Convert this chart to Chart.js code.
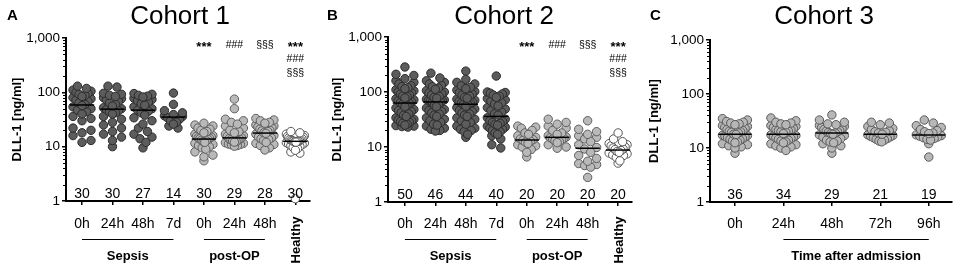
<!DOCTYPE html>
<html>
<head>
<meta charset="utf-8">
<script src="https://cdn.jsdelivr.net/npm/chart.js@4.4.1/dist/chart.umd.min.js"></script>
<style>
  html, body { margin: 0; padding: 0; background: #fff; }
  #wrap { position: relative; width: 957px; height: 266px; overflow: hidden; }
  canvas { position: absolute; top: 0; }
</style>
</head>
<body>
<div id="wrap">
  <canvas id="c1" width="320" height="266" style="left:0"></canvas>
  <canvas id="c2" width="317" height="266" style="left:320px"></canvas>
  <canvas id="c3" width="320" height="266" style="left:637px"></canvas>
</div>
<script>
// ---- data (DLL-1, ng/ml) ----
const yTicks = [1, 10, 100, 1000];
const yTickLabels = ['1', '10', '100', '1,000'];

// Cohort 1
const c1Labels = ['0h', '24h', '48h', '7d', '0h', '24h', '48h', 'Healthy'];
const c1Counts = [30, 30, 27, 14, 30, 29, 28, 30];
const c1Sepsis0h = [130,118,110,105,100,96,92,88,84,80,76,72,68,64,60,57,54,50,47,44,40,36,33,30,22,20,18,16,13,12];
const c1Sepsis24h = [130,125,96,92,88,84,80,76,72,68,64,60,56,52,50,48,46,44,42,40,36,32,28,25,22,19,17,15,13,10];
const c1Sepsis48h = [95,92,88,85,82,78,74,70,66,62,58,54,50,47,45,42,38,34,30,26,22,19,17,15,14,12,9.5];
const c1Sepsis7d = [97,60,46,42,39,37,36,34,32,30,28,26,24,22];
const c1PostOp0h = [27,25,24,22,21,20,19,18,17,16,15.5,15,14.5,14.2,14,13.6,13.2,12.8,12.4,12,11.5,11,10.5,10,9.5,9,8,7,6.5,5.5];
const c1PostOp24h = [75,50,32,30,28,26,24,22,20,19,18,17,16,15.5,14.5,14,13.7,13.4,13,12.7,12.4,12.1,11.8,11.5,11.2,11,10.8,10.5,10.2];
const c1PostOp48h = [33,31,30,28,27,25,24,23,22,21,20,19.5,19,18,17.6,17,16,15,14.5,14,13.5,13,12,11.5,11,10.5,9.5,8.7];
const c1Healthy = [19,18,17,16,15.5,15,14.5,14,13.6,13.3,13.1,12.9,12.8,12.7,12.6,12.5,12.3,12.1,11.9,11.6,11.2,10.9,10.5,10.1,9.7,9.2,8.6,8,7.6,1.1];
const c1Kinds = ['sepsis', 'sepsis', 'sepsis', 'sepsis', 'postop', 'postop', 'postop', 'healthy'];
const c1Groups = [['Sepsis', 0, 3], ['post-OP', 4, 6]];
const c1Sig = [[], [], [], [], ['***'], ['###'], ['§§§'], ['***', '###', '§§§']];

// Cohort 2
const c2Labels = ['0h', '24h', '48h', '7d', '0h', '24h', '48h', 'Healthy'];
const c2Counts = [50, 46, 44, 40, 20, 20, 20, 20];
const c2Sepsis0h = [285,210,200,175,160,150,140,130,125,120,115,110,105,100,96,92,88,85,82,78,75,72,69,66,64,62,60,57,54,51,48,46,44,42,40,38,36,34,32,31,30,29,28,27,26,25,24.5,24,23.5,23];
const c2Sepsis24h = [220,180,160,150,140,132,125,118,112,106,100,96,92,88,84,80,77,74,72,70,69,68,67,65,60,57,54,51,48,46,44,42,40,38,36,34,32,30,28,26,25,24,22,21,20,19.5];
const c2Sepsis48h = [240,170,150,140,130,122,115,108,102,97,92,88,84,80,77,74,71,68,65,63,62,61,59,55,52,49,46,44,42,40,38,36,34,32,30,28,26,24,22,21,20,19,17,15];
const c2Sepsis7d = [195,100,98,95,92,88,84,80,76,72,68,64,60,56,52,49,46,43,40,38,34,32,30,29,28,27,26,25,24,23,22,21,20,19,18,17,16,14,11,9.6];
const c2PostOp0h = [24,23,22,20,18,17,16,15,14,13.6,13.2,12.8,12.2,11.6,11,10.5,10,9,8,6.6];
const c2PostOp24h = [32,28,26,24,22,20,18,17,16,15.2,14.8,14.4,14,13.5,13,12.5,12,11,10,9.5];
const c2PostOp48h = [30,21,19,17,16,15,14,12.5,11,9.8,9.2,8,7,6.2,5.5,5,4.8,4.6,4.3,2.8];
const c2Healthy = [18,14,12.5,11.5,11,10.5,10,9.6,9.2,9,8.6,8.3,8,7.8,7.5,7.2,7,6.5,5.6,5.1];
const c2Kinds = ['sepsis', 'sepsis', 'sepsis', 'sepsis', 'postop', 'postop', 'postop', 'healthy'];
const c2Groups = [['Sepsis', 0, 3], ['post-OP', 4, 6]];
const c2Sig = [[], [], [], [], ['***'], ['###'], ['§§§'], ['***', '###', '§§§']];

// Cohort 3
const c3Labels = ['0h', '24h', '48h', '72h', '96h'];
const c3Counts = [36, 34, 29, 21, 19];
const c3Adm0h = [35,33,31,30,29,28,27,26,25,24,23,22,21,20.5,20,19.5,19,18,17.8,17.2,17,16.5,16,15.5,15,14.5,14,13.5,13,12.5,12,11.5,11,10.5,10,8];
const c3Adm24h = [36,32,30,29,28,27,26,25,24,23,22,21.5,21,20.5,20,19.5,18.5,17.5,17,16.5,16,15.5,15,14.5,14,13.5,13,12.5,12,11.5,11,10.5,10,9];
const c3Adm48h = [41,33,30,28,27,26,25,24,23,22,21,20.5,20,19.5,19,18.5,18,17.5,17,16,15,14,13.5,13,12.5,12,11,10,8];
const c3Adm72h = [30,29,27,25,23,22,21,20,19.5,19,18,17.5,17,16.5,16,15.5,15,14.5,14,13.5,13];
const c3Adm96h = [33,29,26,24,22,21,20,19,18.5,17.5,17,16.5,16,15.5,15,14.5,14,12,6.8];
const c3Kinds = ['adm', 'adm', 'adm', 'adm', 'adm'];
const c3Groups = [['Time after admission', 1, 4]];
const c3Sig = [[], [], [], [], []];

// ---- styles ----
const FONT = "'Liberation Sans', Arial, Helvetica, sans-serif";
Chart.defaults.font.family = FONT;
Chart.defaults.color = '#000';
const kindStyle = {
  sepsis:  { fill: '#5c5c5c', border: '#2b2b2b' },
  postop:  { fill: '#b9b9b9', border: '#5e5e5e' },
  healthy: { fill: '#ffffff', border: '#555555' },
  adm:     { fill: '#b7b7b7', border: '#5a5a5a' }
};

function median(arr) {
  const s = arr.slice().sort((a, b) => a - b);
  const m = Math.floor(s.length / 2);
  return s.length % 2 ? s[m] : (s[m - 1] + s[m]) / 2;
}

// scatter-dot layout: rows of one dot height, dots spread sideways in each row
function swarm(values, center, pxCat, pxDec, halfPx) {
  const diam = 9;
  const bin = diam / pxDec;
  const rows = {};
  values.forEach(v => {
    const k = Math.round(Math.log10(v) / bin);
    (rows[k] = rows[k] || []).push(v);
  });
  const pts = [];
  Object.values(rows).forEach(row => {
    row.sort((a, b) => b - a);
    const k = row.length;
    const step = k > 1 ? Math.min(diam, 2 * halfPx / (k - 1)) : 0;
    const slots = [];
    for (let i = 0; i < k; i++) slots.push((i - (k - 1) / 2) * step);
    // zig-zag: first value left, next right, ...
    const order = [];
    let lo = 0, hi = k - 1;
    while (lo <= hi) { order.push(lo++); if (lo <= hi) order.push(hi--); }
    row.forEach((v, i) => pts.push({ x: center + slots[order[i]] / pxCat, y: v }));
  });
  return pts;
}

const annotPlugin = {
  id: 'annot',
  afterDraw(chart, args, o) {
    const ctx = chart.ctx, xs = chart.scales.x, ys = chart.scales.y, area = chart.chartArea;
    ctx.save();
    ctx.fillStyle = '#000';
    ctx.strokeStyle = '#000';
    // minor log ticks
    ctx.lineWidth = 1;
    for (let d = 0; d < 3; d++) {
      for (let m = 2; m < 10; m++) {
        const y = Math.round(ys.getPixelForValue(m * Math.pow(10, d))) + 0.5;
        ctx.beginPath(); ctx.moveTo(area.left - 3, y); ctx.lineTo(area.left, y); ctx.stroke();
      }
    }
    // panel letter and title
    ctx.textBaseline = 'alphabetic';
    ctx.textAlign = 'left';
    ctx.font = 'bold 15px ' + FONT;
    ctx.fillText(o.letter, o.letterX, 20);
    ctx.textAlign = 'center';
    ctx.font = '26px ' + FONT;
    ctx.fillText(o.title, o.titleX, 24);
    // n per group
    ctx.font = '14px ' + FONT;
    o.counts.forEach((n, i) => ctx.fillText(String(n), xs.getPixelForValue(i), area.bottom - 3));
    // category labels
    o.labels.forEach((l, i) => {
      const x = xs.getPixelForValue(i);
      if (l === 'Healthy') {
        ctx.save();
        ctx.translate(x + 1, 240);
        ctx.rotate(-Math.PI / 2);
        ctx.font = 'bold 13px ' + FONT;
        ctx.textBaseline = 'middle';
        ctx.fillText(l, 0, 0);
        ctx.restore();
      } else {
        ctx.font = '14px ' + FONT;
        ctx.fillText(l, x, 228);
      }
    });
    // group brackets
    ctx.lineWidth = 1;
    o.groups.forEach(([name, a, b]) => {
      const x1 = xs.getPixelForValue(a), x2 = xs.getPixelForValue(b);
      ctx.beginPath(); ctx.moveTo(x1, 239.5); ctx.lineTo(x2, 239.5); ctx.stroke();
      ctx.font = 'bold 13px ' + FONT;
      ctx.fillText(name, (x1 + x2) / 2, 260);
    });
    // significance marks
    const rowsY = [44, 58, 72];
    o.sig.forEach((marks, i) => {
      const x = xs.getPixelForValue(i);
      marks.forEach((s, r) => {
        if (s === '***') {
          ctx.font = 'bold 13px ' + FONT;
          ctx.fillText(s, x, rowsY[r] + 7);
        } else {
          ctx.font = '10.5px ' + FONT;
          ctx.fillText(s, x, rowsY[r] + 4);
        }
      });
    });
    ctx.restore();
  }
};

function makeChart(id, cfg) {
  const datasets = [];
  cfg.series.forEach((vals, i) => {
    const st = kindStyle[cfg.kinds[i]];
    datasets.push({
      type: 'scatter',
      data: swarm(vals, i, cfg.pxCat, cfg.pxDec, cfg.half),
      backgroundColor: st.fill,
      borderColor: st.border,
      borderWidth: 1,
      pointRadius: 4.2,
      clip: false,
      order: 2
    });
    const med = median(vals);
    datasets.push({
      type: 'line',
      data: [{ x: i - cfg.medHalf, y: med }, { x: i + cfg.medHalf, y: med }],
      borderColor: '#000',
      borderWidth: 1.5,
      pointRadius: 0,
      clip: false,
      order: 1
    });
  });

  const axisLine = { display: true, color: '#000', width: 2 };
  return new Chart(document.getElementById(id), {
    type: 'scatter',
    data: { datasets },
    options: {
      responsive: false,
      animation: false,
      events: [],
      layout: { padding: { left: 0, right: cfg.padRight, top: cfg.padTop, bottom: 0 } },
      plugins: {
        legend: { display: false },
        tooltip: { enabled: false },
        annot: {
          letter: cfg.letter, letterX: cfg.letterX, title: cfg.title, titleX: cfg.titleX,
          labels: cfg.labels, counts: cfg.counts, groups: cfg.groups, sig: cfg.sig
        }
      },
      scales: {
        x: {
          type: 'linear',
          min: cfg.xMin,
          max: cfg.xMax,
          afterBuildTicks: s => { s.ticks = cfg.labels.map((_, i) => ({ value: i })); },
          afterFit: s => { s.height = 266 - cfg.bottom; },
          ticks: { callback: () => '', autoSkip: false, maxRotation: 0 },
          grid: { drawOnChartArea: false, drawTicks: true, tickLength: 4, color: '#000', lineWidth: 1.5 },
          border: axisLine
        },
        y: {
          type: 'logarithmic',
          min: 1,
          max: 1000,
          afterBuildTicks: s => { s.ticks = yTicks.map(v => ({ value: v, major: true })); },
          afterFit: s => { s.width = cfg.axisX; },
          ticks: {
            callback: v => { const k = yTicks.indexOf(v); return k >= 0 ? yTickLabels[k] : ''; },
            font: { size: 13.5 },
            color: '#000',
            padding: 2,
            autoSkip: false
          },
          grid: { drawOnChartArea: false, drawTicks: true, tickLength: 4, color: '#000', lineWidth: 1.5 },
          border: axisLine,
          title: {
            display: true,
            text: 'DLL-1 [ng/ml]',
            font: { size: 13, weight: 'bold' },
            color: '#000',
            padding: { top: 10, bottom: 0 }
          }
        }
      }
    },
    plugins: [annotPlugin]
  });
}

makeChart('c1', {
  letter: 'A', letterX: 7, title: 'Cohort 1', titleX: 180,
  labels: c1Labels, counts: c1Counts, groups: c1Groups, sig: c1Sig, kinds: c1Kinds,
  series: [c1Sepsis0h, c1Sepsis24h, c1Sepsis48h, c1Sepsis7d, c1PostOp0h, c1PostOp24h, c1PostOp48h, c1Healthy],
  axisX: 66, padRight: 10, padTop: 38, bottom: 201,
  xMin: -0.525, xMax: 7.48, pxCat: 30.5, pxDec: 54.3, half: 9, medHalf: 0.4
});

makeChart('c2', {
  letter: 'B', letterX: 7, title: 'Cohort 2', titleX: 184,
  labels: c2Labels, counts: c2Counts, groups: c2Groups, sig: c2Sig, kinds: c2Kinds,
  series: [c2Sepsis0h, c2Sepsis24h, c2Sepsis48h, c2Sepsis7d, c2PostOp0h, c2PostOp24h, c2PostOp48h, c2Healthy],
  axisX: 68, padRight: 4, padTop: 37, bottom: 202,
  xMin: -0.556, xMax: 7.45, pxCat: 30.6, pxDec: 55, half: 9, medHalf: 0.4
});

makeChart('c3', {
  letter: 'C', letterX: 13, title: 'Cohort 3', titleX: 187,
  labels: c3Labels, counts: c3Counts, groups: c3Groups, sig: c3Sig, kinds: c3Kinds,
  series: [c3Adm0h, c3Adm24h, c3Adm48h, c3Adm72h, c3Adm96h],
  axisX: 73, padRight: 5, padTop: 40, bottom: 202,
  xMin: -0.515, xMax: 4.475, pxCat: 48.5, pxDec: 54, half: 12.5, medHalf: 0.34
});
</script>
</body>
</html>
